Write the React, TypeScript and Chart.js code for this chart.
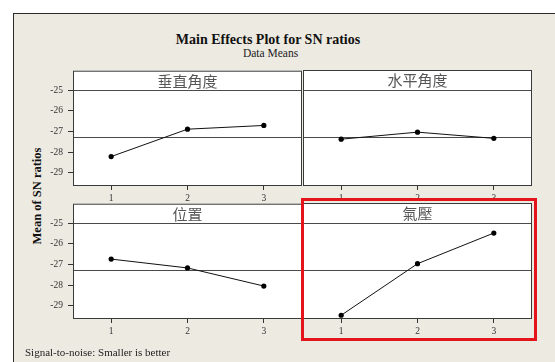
import React, { useEffect, useRef } from "react";
import { Chart, registerables } from "chart.js";

Chart.register(...registerables);

// ---- data ----
const levels = ["1", "2", "3"];
const factorNames = ["垂直角度", "水平角度", "位置", "氣壓"];
const verticalAngle = [-28.22, -26.89, -26.71];
const horizontalAngle = [-27.39, -27.05, -27.35];
const position = [-26.74, -27.17, -28.05];
const airPressure = [-29.47, -26.98, -25.5];
const yTickValues = [-29, -28, -27, -26, -25];
const yMin = -29.65;
const yMax = -24.05;

const allValues = [...verticalAngle, ...horizontalAngle, ...position, ...airPressure];
const grandMean = allValues.reduce((a, b) => a + b, 0) / allValues.length;

const decoPlugin = {
  id: "panelDeco",
  beforeDraw(chart: any) {
    const { ctx, chartArea } = chart;
    ctx.save();
    ctx.fillStyle = "#ffffff";
    ctx.fillRect(chartArea.left, chartArea.top, chartArea.right - chartArea.left, chartArea.bottom - chartArea.top);
    ctx.restore();
  },
  beforeDatasetsDraw(chart: any, _args: any, opts: any) {
    const { ctx, chartArea } = chart;
    const { left, right, top, bottom } = chartArea;
    const y = chart.scales.y;
    ctx.save();
    ctx.lineWidth = 1;
    ctx.strokeStyle = "#4a4a4a";
    const hy = Math.round(y.getPixelForValue(yTickValues[yTickValues.length - 1])) + 0.5;
    const my = Math.round(y.getPixelForValue(grandMean)) + 0.5;
    ctx.beginPath();
    ctx.moveTo(left, hy);
    ctx.lineTo(right, hy);
    ctx.moveTo(left, my);
    ctx.lineTo(right, my);
    ctx.stroke();
    ctx.strokeStyle = "#3a3a3a";
    ctx.strokeRect(left + 0.5, top + 0.5, right - left - 1, bottom - top - 1);
    ctx.fillStyle = "#555555";
    ctx.font = '15px "Noto Sans CJK TC"';
    ctx.textAlign = "center";
    ctx.textBaseline = "middle";
    ctx.fillText(opts.title, (left + right) / 2, (top + hy) / 2 + 0.5);
    ctx.restore();
  },
};

type PanelProps = {
  title: string;
  values: number[];
  showY: boolean;
  left: number;
  top: number;
  width: number;
  height: number;
  pad: { left: number; right: number; top: number; bottom: number };
};

function Panel({ title, values, showY, left, top, width, height, pad }: PanelProps) {
  const ref = useRef<HTMLCanvasElement | null>(null);
  useEffect(() => {
    if (!ref.current) return;
    const tickFont = { family: '"Liberation Serif", serif', size: 9.5 };
    const chart = new Chart(ref.current, {
      type: "line",
      data: {
        labels: levels,
        datasets: [
          {
            data: values,
            borderColor: "#111111",
            borderWidth: 1,
            pointRadius: 2.6,
            pointBackgroundColor: "#000000",
            pointBorderColor: "#000000",
            pointBorderWidth: 0,
            tension: 0,
          },
        ],
      },
      options: {
        animation: false,
        responsive: false,
        maintainAspectRatio: false,
        layout: { padding: pad },
        plugins: {
          legend: { display: false },
          tooltip: { enabled: false },
          panelDeco: { title },
        } as any,
        scales: {
          x: {
            type: "category",
            offset: true,
            grid: { offset: false, drawOnChartArea: false, drawTicks: true, tickLength: 4, color: "#333333", lineWidth: 1 },
            border: { display: false },
            ticks: { color: "#333333", font: tickFont, padding: 3, maxRotation: 0, autoSkip: false },
            afterFit: (s: any) => {
              s.height = 22;
            },
          } as any,
          y: {
            display: showY,
            min: yMin,
            max: yMax,
            afterBuildTicks: (s: any) => {
              s.ticks = yTickValues.map((v) => ({ value: v }));
            },
            grid: { drawOnChartArea: false, drawTicks: true, tickLength: 5, color: "#333333", lineWidth: 1 },
            border: { display: false },
            ticks: { color: "#333333", font: tickFont, padding: 5, autoSkip: false },
            afterFit: (s: any) => {
              s.width = showY ? 33 : 0;
            },
          } as any,
        },
      },
      plugins: [decoPlugin],
    });
    return () => chart.destroy();
  }, []);
  return (
    <canvas
      ref={ref}
      width={width}
      height={height}
      style={{ position: "absolute", left, top, width, height }}
    />
  );
}

export default function App() {
  const serif = '"Liberation Serif", "Times New Roman", serif';
  return (
    <div style={{ position: "fixed", left: 0, top: 0, width: 555, height: 362, background: "#ffffff", overflow: "hidden" }}>
      <div
        style={{
          position: "absolute",
          left: 13,
          top: 13,
          width: 600,
          height: 400,
          background: "#EDEAE2",
          borderTop: "1px solid #2a2a2a",
          borderLeft: "1px solid #2a2a2a",
        }}
      />
      <div style={{ position: "absolute", left: 0, width: 536, top: 32, textAlign: "center", fontFamily: serif, fontWeight: "bold", fontSize: 14, lineHeight: "16px", color: "#111" }}>
        Main Effects Plot for SN ratios
      </div>
      <div style={{ position: "absolute", left: 0, width: 541, top: 47, textAlign: "center", fontFamily: serif, fontSize: 11.5, lineHeight: "13px", color: "#222" }}>
        Data Means
      </div>
      <div
        style={{
          position: "absolute",
          left: 37,
          top: 196,
          transform: "translate(-50%, -50%) rotate(-90deg)",
          whiteSpace: "nowrap",
          fontFamily: serif,
          fontWeight: "bold",
          fontSize: 12.5,
          color: "#111",
        }}
      >
        Mean of SN ratios
      </div>
      <Panel title={factorNames[0]} values={verticalAngle} showY={true} left={40} top={60} width={266} height={148} pad={{ left: 0, right: 3, top: 10, bottom: 0 }} />
      <Panel title={factorNames[1]} values={horizontalAngle} showY={false} left={299} top={60} width={237} height={148} pad={{ left: 3, right: 4, top: 10, bottom: 0 }} />
      <Panel title={factorNames[2]} values={position} showY={true} left={40} top={193} width={266} height={148} pad={{ left: 0, right: 3, top: 10, bottom: 0 }} />
      <Panel title={factorNames[3]} values={airPressure} showY={false} left={299} top={193} width={237} height={148} pad={{ left: 3, right: 4, top: 10, bottom: 0 }} />
      <div style={{ position: "absolute", left: 301, top: 198, width: 236, height: 143, boxSizing: "border-box", border: "3px solid #E3141B" }} />
      <div style={{ position: "absolute", left: 25, top: 346, fontFamily: serif, fontSize: 11, lineHeight: "13px", color: "#222", whiteSpace: "nowrap" }}>
        Signal-to-noise: Smaller is better
      </div>
    </div>
  );
}
